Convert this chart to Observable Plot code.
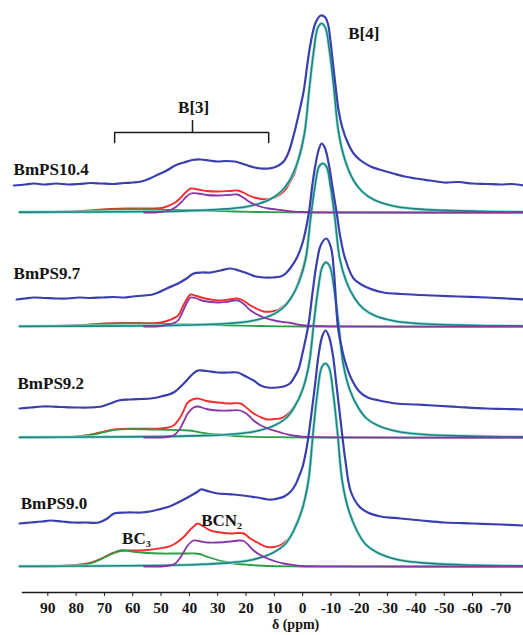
<!DOCTYPE html>
<html><head><meta charset="utf-8">
<script src="https://cdn.jsdelivr.net/npm/d3@7"></script>
<script src="https://cdn.jsdelivr.net/npm/@observablehq/plot@0.6"></script>
<style>html,body{margin:0;padding:0;background:#fff;} #chart{width:523px;height:635px;}</style>
</head><body><div id="chart"></div>
<script>
// ---------- data (chemical shift in ppm, intensity in arbitrary units) ----------
const samples = ["BmPS10.4", "BmPS9.7", "BmPS9.2", "BmPS9.0"];
const ppmTicks = [90, 80, 70, 60, 50, 40, 30, 20, 10, 0, -10, -20, -30, -40, -50, -60, -70];

// experimental spectra
const exp104 = [[102,27],[98,28],[95,29],[91,28],[87,29],[83,28],[79,28.5],[75,29.5],[71,29],[67,28.5],[63,29.5],[60,30],[57,31],[54,34],[51,38],[48,42],[45,47],[42,50],[39,52.5],[36,53],[33,52],[30,51],[27,51.5],[24,51],[21.5,49],[19.4,47],[17,45],[14.8,44],[12,44],[10.2,45],[8.5,47],[6.7,51],[5,60],[3.2,77],[1.4,98],[-0.4,122],[-1.6,147],[-2.8,169],[-4.6,190],[-6.4,197],[-8,195],[-9,188],[-9.8,172],[-10.6,152],[-11.6,127],[-12.7,102],[-14,85],[-15.9,70],[-18,59],[-20.5,52],[-24,46],[-27,43],[-32,39],[-36,36],[-40,34],[-45,32],[-50,30],[-55,30.5],[-60,29],[-65,28.5],[-70,28],[-74,28.5],[-78,27]];
const exp97 = [[101,27],[98,28],[95,29],[91,28.5],[87,28],[83,28],[79,29],[75,28.5],[71,29],[67,29.5],[63,29],[60,30],[56,31],[53,32],[51,34],[48,38],[44,43],[41,48],[38.5,53],[35.5,54],[32.5,54],[29,56],[25.4,58],[22.5,56],[19.4,53],[16.5,50],[13.8,49],[10.5,49],[7.8,50],[6,53],[4.2,59],[2,69],[0,84],[-2.1,112],[-3.5,143],[-4.6,163],[-5.7,177],[-6.7,183],[-7.8,179],[-9.2,163],[-10.5,140],[-12,114],[-13.4,88],[-15,68],[-18,48],[-22,40],[-28.6,34],[-35,32.5],[-46,31],[-55,30],[-65,29],[-72,28],[-78,27]];
const exp92 = [[100,29],[96,30],[92,31],[89,31],[85,30.5],[80,30],[75,30],[71,31],[68,34],[65,37],[61,38],[57,38.5],[53.7,39],[50,41],[45.6,45],[42,54],[39,63],[37,67],[34,66.5],[30,65],[26,65],[23,65],[20,61],[17.3,57],[14.8,52],[12.4,50],[9,50],[6.7,51],[4.5,54],[3.2,59],[1.5,68],[0,85],[-2,112],[-3.5,145],[-5,175],[-6.5,193],[-8.4,199],[-10,190],[-11,168],[-12.4,112],[-13.4,95],[-15,76],[-17,60],[-20,46],[-23,40],[-27,37],[-33,34],[-40,33],[-46,32],[-55,30.5],[-65,29],[-72,28.5],[-78,28]];
const exp90 = [[100,43],[96,44],[92,45],[89,46],[85,45],[81,44],[77,44],[72,44],[69,48],[66.6,53],[62,54],[57,54],[54,55],[51,57],[47,60],[44,64],[40,70],[37,75],[36,77],[33,75],[30,73],[27,72.5],[24.4,72],[21,71],[18.4,70],[15,68.5],[12.4,67],[10.5,67],[8.8,68],[6.5,70],[4.2,75],[2.5,82],[1.3,90],[0,100],[-1.5,120],[-2.8,146],[-4.3,180],[-5.7,213],[-7,231],[-8.1,236],[-9.3,230],[-10.6,213],[-12,180],[-13.4,146],[-15,108],[-17,75],[-20,60],[-23,54],[-27.6,50],[-34.6,48],[-42,46],[-50,44],[-60,43],[-70,42],[-78,41]];

// fitted sum
const sum104 = [[100,0.4],[88,0.6],[80,1.2],[74,2.3],[68,3.5],[62,4],[55,4],[50,4.5],[48,6],[45,10],[43,15],[41,21],[39.5,24],[37,23],[34,21.5],[30,21],[26,21.5],[23,22],[21,20],[19,17],[17,15],[14.5,13.5],[12,13.5],[10,15],[8,18],[6,23],[4.6,30],[3,38],[1.6,53],[-0.7,81],[-2.4,125],[-3.9,161],[-5.4,185.5],[-6.7,189.5]];
const sum97 = [[100,0.3],[88,0.6],[80,1.2],[74,2.3],[70,3],[64,3.5],[58,3.5],[53.7,3.3],[50,4],[47,6.5],[44,11],[42.5,19],[41,27],[39.6,32],[37.5,30.5],[35,28.5],[30,26],[26,27],[23,28],[21,26],[18.4,21],[16,17.5],[13.8,15],[11,15],[8.8,16.5],[6.5,21],[4.9,26],[3.2,33],[1.2,47],[-1.1,70],[-2.8,110],[-4.3,140],[-5.8,160.5],[-7.1,163.5]];
const sum92 = [[100,0.2],[85,0.5],[80,0.9],[76,2.2],[73,4],[70,6],[67,7.8],[64,8.6],[60,8.8],[54,8.7],[50,9],[47.5,10],[45.6,12],[43.5,19],[42,27],[40.6,35],[38.5,38.5],[37,39],[34,36.5],[30,35],[26,34],[22,34],[19.5,29],[17.3,24],[15,20.5],[12.4,18],[10,18.5],[8,19],[6.7,20.5],[5,24],[3,31],[1.5,38],[0,48],[-2.3,75],[-4,117],[-5.5,150],[-7,172],[-8.3,176]];
const sum90 = [[100,0.2],[86,0.5],[80,1.5],[76,3],[73,5.5],[70,9.5],[67,13.5],[64.5,16],[60,16],[55,16.5],[51,18],[47.7,19.5],[45.6,22],[43.5,26],[41.5,31],[40.6,34],[38.5,40],[37,43],[35,40],[32.5,36],[29,34],[25.4,33],[22.5,33.5],[20.8,33],[18.5,28],[16,24],[14,21],[12.4,19.5],[10,19.5],[7.8,21.5],[6,25],[4.2,30],[2.5,41],[0.3,56],[-2,85],[-3.7,134],[-5.2,173],[-6.7,199],[-8,203.3]];

// BC3 component
const bc3_104 = [[100,0],[88,0.3],[80,0.8],[74,1.8],[68,2.8],[62,3.2],[55,3],[48,2.7],[42,2.4],[36,2],[30,1.5],[24,1],[18,0.6],[12,0.3],[5,0.1],[-5,0],[-78,0]];
const bc3_97 = [[100,0],[88,0.4],[80,0.8],[74,1.8],[70,2.5],[64,3],[58,3],[50,2.5],[44,2.2],[38,1.8],[30,1.4],[22,0.9],[15,0.5],[8,0.2],[0,0],[-78,0]];
const bc3_92 = [[100,0],[85,0.3],[80,0.8],[76,2],[73,3.5],[70,5.5],[67,7.3],[64,8.2],[60,8.3],[54,8],[48,7.6],[43,7.3],[40,7],[37,5.5],[34,4.2],[30,3],[26,2],[22,1.2],[17,0.6],[12,0.4],[5,0.2],[0,0],[-78,0]];
const bc3_90 = [[100,0],[86,0.3],[80,1],[76,2.5],[73,5],[70,9],[67,13],[64.5,15.5],[62,15.6],[59,14.5],[55,13.5],[50,13],[45,13],[40.6,13],[38,13],[36.5,12.5],[35,11],[33,9],[30,6.5],[27,4.5],[24.4,3],[20,1.8],[16,1],[12.4,0.5],[6,0.2],[0,0],[-78,0]];

// BCN2 component
const bcn2_104 = [[56,0],[52,0],[48,1.5],[45,5],[43,10],[41,16],[39.5,19],[37,19],[34,17.5],[30,17],[26,17.5],[23,18],[21,15],[19,11],[17,8],[14.5,5.5],[12,4],[8,2.5],[4,1.2],[0,0.5],[-6,0.2],[-78,0]];
const bcn2_97 = [[56,0],[52,0],[48,1.5],[45.5,3.5],[44,6],[42.5,14],[41,23],[39.6,29],[37.5,28],[35,25.5],[30,24],[26,25],[23,26],[21,23],[18.4,16],[16,12],[13.8,9],[10,6],[7,4.5],[4.2,3.5],[0.7,1.5],[-4,0.6],[-10,0.2],[-78,0]];
const bcn2_92 = [[56,0],[50,0],[47,1],[45.6,2],[43.5,8],[42,16],[40.6,24],[38.5,30],[37,31],[34,28.5],[30,27],[26,27],[22,27],[19.5,23],[17.3,17],[15,12.5],[12.4,9],[9,6],[6.7,4],[3.5,2],[0.7,1],[-5,0.4],[-12,0.1],[-78,0]];
const bcn2_90 = [[56,0],[50,0],[47,1],[45,3],[44,6],[42.5,12],[40.6,21],[38.5,26],[36,25],[33.6,24],[30,24],[25.4,25],[22.5,26],[20.8,25.5],[19,21],[17.3,16],[15,11.5],[12.4,8],[9.5,5],[6.7,3],[3.5,1.5],[0.7,0.5],[-5,0.2],[-78,0]];

// B[4] component
const b4_104 = [[100,0.4],[51.3,1],[36.6,2.1],[26.6,3.6],[18.6,6.5],[11.6,13],[7.6,21],[4.6,32],[1.6,52],[-0.7,80],[-2.4,125],[-3.9,161],[-5.4,185],[-6.7,189],[-8,185],[-9.5,161],[-11,125],[-12.7,80],[-15,52],[-18,32],[-21,21],[-25,13],[-32,6.5],[-40,3.6],[-50,2.1],[-64.7,1],[-78,0.6]];
const b4_97 = [[100,0.3],[50.9,0.8],[36.2,1.8],[26.2,3],[18.2,5.5],[11.2,11],[7.2,18],[4.2,28],[1.2,45],[-1.1,68],[-2.8,108],[-4.3,139],[-5.8,160],[-7.1,163],[-8.4,160],[-9.9,139],[-11.4,108],[-13.1,68],[-15.4,45],[-18.4,28],[-21.4,18],[-25.4,11],[-32.4,5.5],[-40.4,3],[-50.4,1.8],[-65.1,0.8],[-78,0.5]];
const b4_92 = [[100,0.3],[49.7,0.9],[35,1.9],[25,3.3],[17,6],[10,12],[6,19],[3,30],[0,48],[-2.3,74],[-4,116],[-5.5,149],[-7,171],[-8.3,175],[-9.6,171],[-11.1,149],[-12.6,116],[-14.3,74],[-16.6,48],[-19.6,30],[-22.6,19],[-26.6,12],[-33.6,6],[-41.6,3.3],[-51.6,1.9],[-66.3,0.9],[-78,0.6]];
const b4_90 = [[100,0.3],[50,1],[35.3,2.2],[25.3,3.9],[17.3,7],[10.3,14],[6.3,22],[3.3,35],[0.3,56],[-2,85],[-3.7,134],[-5.2,173],[-6.7,199],[-8,203],[-9.3,199],[-10.8,173],[-12.3,134],[-14,85],[-16.3,56],[-19.3,35],[-22.3,22],[-26.3,14],[-33.3,7],[-41.3,3.9],[-51.3,2.2],[-66,1],[-78,0.6]];

// ---------- layout ----------
const stackOffset = [354, 240, 129, 0];
const series = {
  exp: [exp104, exp97, exp92, exp90],
  sum: [sum104, sum97, sum92, sum90],
  bc3: [bc3_104, bc3_97, bc3_92, bc3_90],
  bcn2: [bcn2_104, bcn2_97, bcn2_92, bcn2_90],
  b4: [b4_104, b4_97, b4_92, b4_90]
};
const rows = {};
for (const k of Object.keys(series)) {
  rows[k] = [];
  series[k].forEach((arr, i) => {
    arr.slice().sort((a, b) => a[0] - b[0]).forEach(([p, h]) =>
      rows[k].push({sample: samples[i], ppm: p, v: h + stackOffset[i]}));
  });
}
const lineOpts = (extra) => Object.assign({x: "ppm", y: "v", z: "sample", curve: "catmull-rom", strokeLinejoin: "round"}, extra);

const txt = {fill: "#141414", fontWeight: "bold", fontFamily: "'Liberation Serif','Times New Roman',serif"};

const chart = Plot.plot({
  width: 523, height: 635,
  marginTop: 0, marginBottom: 43, marginLeft: 0, marginRight: 0,
  style: {fontFamily: "'Liberation Serif','Times New Roman',serif", fontWeight: "bold", background: "#fff", color: "#141414"},
  x: {domain: [100, -78], range: [19, 523]},
  y: {domain: [-26, 566], axis: null},
  marks: [
    Plot.line(rows.sum, lineOpts({stroke: "#ef2e2e", strokeWidth: 1.9})),
    Plot.line(rows.bc3, lineOpts({stroke: "#2e9e46", strokeWidth: 1.8})),
    Plot.line(rows.b4, lineOpts({stroke: "#8ee2e0", strokeWidth: 3.0})),
    Plot.line(rows.b4, lineOpts({stroke: "#24807a", strokeWidth: 1.6})),
    Plot.line(rows.bcn2, lineOpts({stroke: "#8a35a6", strokeWidth: 1.8})),
    Plot.line(rows.exp, lineOpts({stroke: "#3a3fae", strokeWidth: 2.2})),
    // axis
    Plot.ruleY([-26], {x1: 99, x2: -78, stroke: "#1a1a1a", strokeWidth: 1.6}),
    Plot.axisX({ticks: ppmTicks, tickFormat: d => String(d), tickSize: 4, tickPadding: 5, fontSize: 15.5, label: null, stroke: "#1a1a1a"}),
    Plot.text(["δ (ppm)"], Object.assign({x: [2.5], y: [-58.5], fontSize: 14}, txt)),
    // sample labels
    Plot.text(samples, Object.assign({x: [102.1, 102.1, 100.7, 99.6], y: [397, 293, 183, 63], textAnchor: "start", fontSize: 17}, txt)),
    // peak annotations
    Plot.text(["B[3]", "B[4]", "BCN₂", "BC₃"], Object.assign({x: [38.5, -21.6, 28.6, 58.7], y: [459, 533, 46, 28], fontSize: 17}, txt)),
    // bracket over B[3] region
    Plot.line([[66.4, 424], [66.4, 434], [12, 434], [12, 424]], {x: d => d[0], y: d => d[1], stroke: "#1a1a1a", strokeWidth: 1.5}),
    Plot.ruleX([38.9], {y1: 434, y2: 446, stroke: "#1a1a1a", strokeWidth: 1.5})
  ]
});
document.getElementById("chart").appendChild(chart);
</script></body></html>
